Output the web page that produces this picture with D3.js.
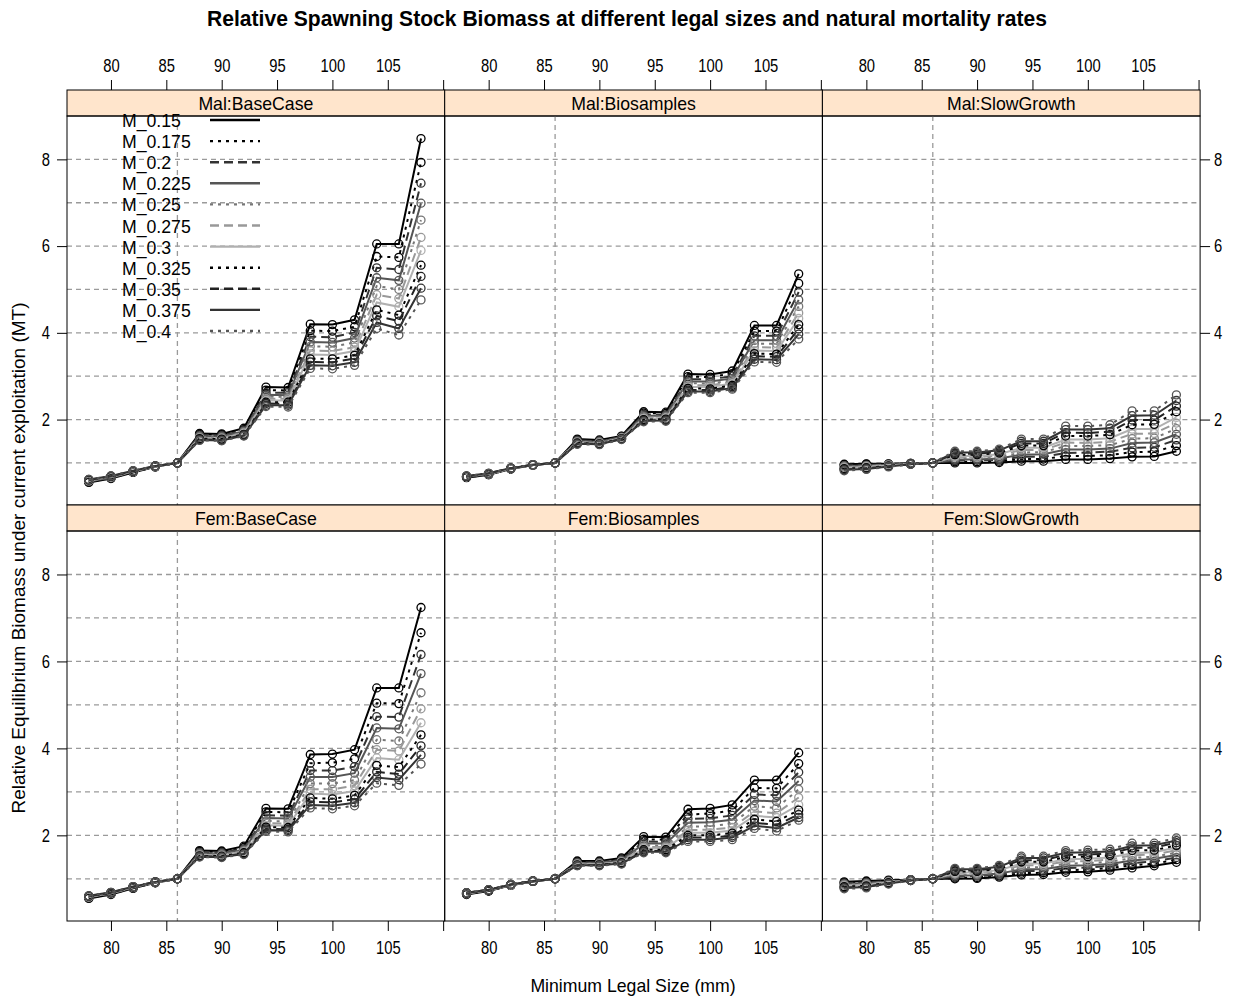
<!DOCTYPE html>
<html>
<head>
<meta charset="utf-8">
<script src="https://cdn.jsdelivr.net/npm/d3@7"></script>
<style>
  body { margin: 0; background: #fff; }
  text { font-family: "Liberation Sans", Arial, sans-serif; fill: #000; }
</style>
</head>
<body>
<div id="chart"></div>
<script>
// 1: DATA
// minimum legal sizes (mm) on the x axis
const sizes = [78, 80, 82, 84, 86, 88, 90, 92, 94, 96, 98, 100, 102, 104, 106, 108];
const mLabels = ["M_0.15", "M_0.175", "M_0.2", "M_0.225", "M_0.25", "M_0.275", "M_0.3",
                 "M_0.325", "M_0.35", "M_0.375", "M_0.4"];
const xTicks = [80, 85, 90, 95, 100, 105, 110];
const yTicks = [2, 4, 6, 8];
const gridY = [1, 2, 3, 4, 5, 6, 7, 8];
const refSize = 86;

// each row = one legal size, columns = M_0.15 ... M_0.4
const malBaseCase = [
  [0.55,0.56,0.57,0.58,0.59,0.59,0.60,0.61,0.61,0.62,0.62],
  [0.64,0.65,0.66,0.66,0.67,0.68,0.68,0.69,0.69,0.70,0.70],
  [0.78,0.79,0.79,0.80,0.80,0.80,0.81,0.81,0.81,0.82,0.82],
  [0.91,0.91,0.92,0.92,0.92,0.92,0.92,0.93,0.93,0.93,0.93],
  [1,1,1,1,1,1,1,1,1,1,1],
  [1.68,1.66,1.64,1.62,1.60,1.58,1.57,1.56,1.54,1.53,1.52],
  [1.67,1.65,1.63,1.61,1.59,1.57,1.56,1.55,1.53,1.52,1.51],
  [1.80,1.77,1.75,1.73,1.71,1.69,1.68,1.66,1.65,1.63,1.62],
  [2.75,2.68,2.62,2.57,2.53,2.48,2.44,2.40,2.37,2.33,2.30],
  [2.74,2.67,2.62,2.56,2.52,2.48,2.44,2.40,2.36,2.33,2.29],
  [4.20,4.05,3.91,3.79,3.69,3.59,3.50,3.40,3.33,3.25,3.18],
  [4.19,4.04,3.90,3.78,3.68,3.58,3.49,3.40,3.32,3.24,3.17],
  [4.30,4.14,4.01,3.88,3.78,3.67,3.58,3.48,3.41,3.32,3.25],
  [6.05,5.76,5.50,5.27,5.08,4.88,4.70,4.53,4.39,4.24,4.10],
  [6.05,5.74,5.46,5.21,5.00,4.79,4.60,4.41,4.27,4.10,3.95],
  [8.48,7.93,7.45,6.99,6.60,6.20,5.90,5.56,5.30,5.03,4.76]
];
const malBiosamples = [
  [0.66,0.67,0.67,0.68,0.68,0.68,0.69,0.69,0.69,0.70,0.70],
  [0.73,0.73,0.74,0.74,0.74,0.75,0.75,0.75,0.76,0.76,0.76],
  [0.86,0.86,0.87,0.87,0.87,0.87,0.87,0.88,0.88,0.88,0.88],
  [0.95,0.95,0.95,0.95,0.95,0.96,0.96,0.96,0.96,0.96,0.96],
  [1,1,1,1,1,1,1,1,1,1,1],
  [1.55,1.53,1.52,1.50,1.49,1.48,1.47,1.46,1.45,1.44,1.43],
  [1.53,1.51,1.50,1.49,1.48,1.46,1.45,1.44,1.44,1.43,1.42],
  [1.62,1.61,1.60,1.59,1.58,1.57,1.57,1.56,1.55,1.55,1.54],
  [2.18,2.15,2.12,2.09,2.07,2.04,2.02,2.00,1.98,1.97,1.95],
  [2.17,2.14,2.11,2.09,2.07,2.04,2.03,2.01,1.99,1.98,1.96],
  [3.05,2.99,2.93,2.88,2.84,2.79,2.75,2.72,2.68,2.65,2.62],
  [3.04,2.98,2.93,2.88,2.83,2.79,2.75,2.71,2.68,2.65,2.62],
  [3.12,3.06,3.00,2.95,2.91,2.87,2.83,2.79,2.76,2.73,2.70],
  [4.17,4.04,3.93,3.83,3.75,3.67,3.59,3.52,3.46,3.39,3.33],
  [4.17,4.04,3.93,3.83,3.75,3.66,3.58,3.51,3.45,3.38,3.32],
  [5.36,5.14,4.94,4.76,4.61,4.46,4.33,4.19,4.09,3.97,3.86]
];
const malSlowGrowth = [
  [0.97,0.96,0.94,0.93,0.91,0.90,0.88,0.87,0.85,0.84,0.82],
  [0.98,0.97,0.95,0.94,0.93,0.92,0.90,0.89,0.88,0.86,0.85],
  [0.98,0.97,0.97,0.96,0.95,0.95,0.94,0.93,0.92,0.92,0.91],
  [0.99,0.99,0.99,0.98,0.98,0.98,0.98,0.98,0.97,0.97,0.97],
  [1,1,1,1,1,1,1,1,1,1,1],
  [1.00,1.03,1.05,1.08,1.11,1.14,1.16,1.19,1.22,1.24,1.27],
  [1.00,1.03,1.06,1.08,1.11,1.13,1.16,1.19,1.21,1.24,1.27],
  [1.01,1.04,1.07,1.10,1.13,1.17,1.20,1.23,1.26,1.29,1.32],
  [1.04,1.09,1.14,1.19,1.24,1.30,1.35,1.40,1.45,1.50,1.55],
  [1.04,1.09,1.14,1.20,1.25,1.30,1.35,1.40,1.45,1.50,1.55],
  [1.08,1.16,1.23,1.31,1.39,1.47,1.54,1.62,1.70,1.77,1.85],
  [1.08,1.16,1.24,1.31,1.39,1.46,1.54,1.62,1.69,1.77,1.85],
  [1.10,1.18,1.26,1.33,1.41,1.49,1.57,1.65,1.72,1.80,1.88],
  [1.14,1.25,1.35,1.46,1.56,1.67,1.78,1.88,1.99,2.09,2.20],
  [1.15,1.26,1.36,1.47,1.57,1.68,1.78,1.89,1.99,2.10,2.20],
  [1.27,1.40,1.53,1.66,1.79,1.92,2.05,2.18,2.31,2.44,2.57]
];
const femBaseCase = [
  [0.55,0.56,0.57,0.58,0.58,0.59,0.59,0.60,0.60,0.61,0.61],
  [0.64,0.65,0.66,0.66,0.67,0.67,0.68,0.68,0.68,0.69,0.69],
  [0.78,0.79,0.79,0.80,0.80,0.81,0.81,0.81,0.82,0.82,0.82],
  [0.91,0.91,0.92,0.92,0.92,0.92,0.92,0.93,0.93,0.93,0.93],
  [1,1,1,1,1,1,1,1,1,1,1],
  [1.65,1.63,1.61,1.59,1.57,1.55,1.54,1.53,1.52,1.51,1.50],
  [1.64,1.62,1.60,1.58,1.56,1.54,1.53,1.52,1.51,1.50,1.49],
  [1.75,1.72,1.69,1.67,1.65,1.63,1.61,1.60,1.58,1.57,1.56],
  [2.62,2.54,2.46,2.40,2.33,2.28,2.23,2.19,2.15,2.12,2.09],
  [2.61,2.53,2.45,2.39,2.32,2.27,2.22,2.18,2.14,2.11,2.08],
  [3.86,3.66,3.49,3.34,3.19,3.06,2.96,2.86,2.77,2.70,2.63],
  [3.87,3.67,3.49,3.34,3.19,3.06,2.94,2.84,2.76,2.68,2.61],
  [3.97,3.76,3.58,3.43,3.27,3.14,3.02,2.92,2.83,2.75,2.68],
  [5.39,5.04,4.73,4.47,4.20,3.97,3.78,3.61,3.46,3.33,3.20],
  [5.39,5.03,4.72,4.45,4.17,3.94,3.74,3.57,3.41,3.28,3.15],
  [7.24,6.66,6.16,5.72,5.28,4.91,4.59,4.31,4.06,3.85,3.64]
];
const femBiosamples = [
  [0.64,0.65,0.65,0.66,0.66,0.67,0.67,0.67,0.68,0.68,0.68],
  [0.72,0.72,0.73,0.73,0.74,0.74,0.74,0.74,0.75,0.75,0.75],
  [0.85,0.85,0.86,0.86,0.86,0.86,0.86,0.87,0.87,0.87,0.87],
  [0.94,0.94,0.94,0.94,0.95,0.95,0.95,0.95,0.95,0.95,0.95],
  [1,1,1,1,1,1,1,1,1,1,1],
  [1.41,1.39,1.38,1.36,1.35,1.34,1.33,1.32,1.31,1.31,1.30],
  [1.41,1.39,1.38,1.37,1.35,1.34,1.33,1.32,1.32,1.31,1.30],
  [1.48,1.46,1.44,1.42,1.40,1.39,1.38,1.37,1.36,1.35,1.34],
  [1.97,1.91,1.86,1.81,1.77,1.73,1.70,1.67,1.64,1.62,1.60],
  [1.96,1.90,1.85,1.81,1.76,1.73,1.70,1.67,1.64,1.62,1.60],
  [2.60,2.48,2.38,2.29,2.20,2.12,2.06,2.00,1.95,1.90,1.86],
  [2.62,2.50,2.39,2.30,2.21,2.13,2.06,2.00,1.95,1.90,1.86],
  [2.70,2.57,2.46,2.36,2.27,2.18,2.11,2.05,1.99,1.95,1.90],
  [3.27,3.09,2.94,2.80,2.67,2.55,2.45,2.37,2.29,2.22,2.16],
  [3.27,3.08,2.92,2.78,2.63,2.51,2.41,2.32,2.24,2.17,2.10],
  [3.90,3.65,3.45,3.25,3.06,2.87,2.70,2.58,2.48,2.41,2.35]
];
const femSlowGrowth = [
  [0.93,0.91,0.90,0.88,0.87,0.85,0.83,0.82,0.80,0.79,0.77],
  [0.95,0.93,0.92,0.90,0.89,0.87,0.85,0.84,0.82,0.81,0.79],
  [0.97,0.96,0.95,0.94,0.93,0.93,0.92,0.91,0.90,0.89,0.88],
  [0.98,0.98,0.98,0.97,0.97,0.97,0.97,0.97,0.96,0.96,0.96],
  [1,1,1,1,1,1,1,1,1,1,1],
  [1.00,1.02,1.05,1.07,1.10,1.12,1.14,1.17,1.19,1.22,1.24],
  [1.01,1.03,1.06,1.08,1.10,1.13,1.15,1.17,1.19,1.22,1.24],
  [1.04,1.07,1.09,1.12,1.15,1.18,1.20,1.23,1.26,1.28,1.31],
  [1.09,1.13,1.18,1.22,1.26,1.31,1.35,1.39,1.43,1.48,1.52],
  [1.10,1.14,1.18,1.22,1.27,1.31,1.35,1.39,1.43,1.48,1.52],
  [1.15,1.20,1.25,1.30,1.35,1.40,1.45,1.50,1.55,1.60,1.65],
  [1.16,1.21,1.26,1.31,1.36,1.41,1.46,1.51,1.56,1.61,1.66],
  [1.20,1.25,1.30,1.34,1.39,1.44,1.49,1.54,1.58,1.63,1.68],
  [1.25,1.31,1.36,1.42,1.48,1.54,1.59,1.65,1.71,1.76,1.82],
  [1.30,1.35,1.40,1.46,1.51,1.56,1.61,1.66,1.72,1.77,1.82],
  [1.38,1.44,1.49,1.55,1.60,1.66,1.72,1.77,1.83,1.88,1.94]
];

const panels = [
  { name: "Mal:BaseCase",    rows: malBaseCase,   row: 0, col: 0 },
  { name: "Mal:Biosamples",  rows: malBiosamples, row: 0, col: 1 },
  { name: "Mal:SlowGrowth",  rows: malSlowGrowth, row: 0, col: 2 },
  { name: "Fem:BaseCase",    rows: femBaseCase,   row: 1, col: 0 },
  { name: "Fem:Biosamples",  rows: femBiosamples, row: 1, col: 1 },
  { name: "Fem:SlowGrowth",  rows: femSlowGrowth, row: 1, col: 2 }
];

// 2: STYLES (lattice-like superpose settings)
const seriesColor = ["#000000", "#000000", "#333333", "#555555", "#777777", "#999999",
                     "#b0b0b0", "#000000", "#222222", "#333333", "#555555"];
const dashTypes = [null, "3,5", "9,5"];   // solid, dotted, dashed
const seriesDash = mLabels.map((d, i) => dashTypes[i % 3]);

// 3: LAYOUT
const W = 1244, H = 999;
const left = 67, panelW = 377.7;
const stripH = 26;
const rowTop = [90, 505];          // strip top of each row
const panelH = [389, 390];

const svg = d3.select("#chart").append("svg")
  .attr("width", W).attr("height", H);

const x = d3.scaleLinear().domain([76.03, 110.14]).range([0, panelW]);
const yScales = panelH.map(h => d3.scaleLinear().domain([0.03, 9.0]).range([h, 0]));

const line = d3.line().x(d => x(d.x)).y(d => d.ys(d.y));

// 4: PANELS
panels.forEach(p => {
  const gx = left + p.col * panelW;
  const stripY = rowTop[p.row];
  const py = stripY + stripH;
  const h = panelH[p.row];
  const y = yScales[p.row];

  // strip
  svg.append("rect")
    .attr("x", gx).attr("y", stripY)
    .attr("width", panelW).attr("height", stripH)
    .attr("fill", "#ffe5cc").attr("stroke", "#000").attr("stroke-width", 1);
  svg.append("text")
    .attr("class", "narrow")
    .attr("x", gx + panelW / 2).attr("y", stripY + 20)
    .attr("text-anchor", "middle")
    .style("font-size", "19px")
    .text(p.name);

  const g = svg.append("g").attr("transform", `translate(${gx},${py})`);

  // reference grid
  g.selectAll(".hgrid").data(gridY).enter().append("line")
    .attr("x1", 0).attr("x2", panelW)
    .attr("y1", d => y(d)).attr("y2", d => y(d))
    .attr("stroke", "#9a9a9a").attr("stroke-width", 1.3)
    .attr("stroke-dasharray", "5,4");
  g.append("line")
    .attr("x1", x(refSize)).attr("x2", x(refSize))
    .attr("y1", 0).attr("y2", h)
    .attr("stroke", "#9a9a9a").attr("stroke-width", 1.3)
    .attr("stroke-dasharray", "5,4");

  // series: transpose rows into one line per M
  const series = mLabels.map((m, i) => sizes.map((s, j) => ({ x: s, y: p.rows[j][i], ys: y })));

  series.forEach((s, i) => {
    g.append("path")
      .attr("d", line(s))
      .attr("fill", "none")
      .attr("stroke", seriesColor[i])
      .attr("stroke-width", 2)
      .attr("stroke-dasharray", seriesDash[i]);
    g.selectAll(null).data(s).enter().append("circle")
      .attr("cx", d => x(d.x)).attr("cy", d => y(d.y))
      .attr("r", 4)
      .attr("fill", "none")
      .attr("stroke", seriesColor[i])
      .attr("stroke-width", 1.3);
  });

  // panel border
  g.append("rect")
    .attr("width", panelW).attr("height", h)
    .attr("fill", "none").attr("stroke", "#000").attr("stroke-width", 1);

  // axes
  const fmt = d => d === 110 ? "" : d;
  if (p.row === 0) {
    svg.append("g").attr("class", "axis")
      .attr("transform", `translate(${gx},${stripY})`)
      .call(d3.axisTop(x).tickValues(xTicks).tickFormat(fmt).tickSize(10).tickPadding(8).tickSizeOuter(0));
  } else {
    svg.append("g").attr("class", "axis")
      .attr("transform", `translate(${gx},${py + h})`)
      .call(d3.axisBottom(x).tickValues(xTicks).tickFormat(fmt).tickSize(10).tickPadding(10).tickSizeOuter(0));
  }
  if (p.col === 0) {
    svg.append("g").attr("class", "axis")
      .attr("transform", `translate(${gx},${py})`)
      .call(d3.axisLeft(y).tickValues(yTicks).tickSize(10).tickPadding(7).tickSizeOuter(0));
  }
  if (p.col === 2) {
    svg.append("g").attr("class", "axis")
      .attr("transform", `translate(${gx + panelW},${py})`)
      .call(d3.axisRight(y).tickValues(yTicks).tickSize(10).tickPadding(4).tickSizeOuter(0));
  }
});

svg.selectAll(".axis .domain").remove();
svg.selectAll(".axis line").attr("stroke", "#000").attr("stroke-width", 1);
svg.selectAll(".axis text")
  .attr("class", "ticklab")
  .style("font-size", "18px")
  .style("font-family", "'Liberation Sans', Arial, sans-serif")
  .attr("fill", "#000");

// 5: LEGEND (inside Mal:BaseCase)
const legend = svg.append("g");
mLabels.forEach((m, i) => {
  const ly = 120 + i * 21.1;
  legend.append("text")
    .attr("class", "narrow")
    .attr("x", 122).attr("y", ly + 7)
    .style("font-size", "19px")
    .text(m);
  legend.append("line")
    .attr("x1", 210).attr("x2", 260)
    .attr("y1", ly).attr("y2", ly)
    .attr("stroke", seriesColor[i])
    .attr("stroke-width", 2.4)
    .attr("stroke-dasharray", seriesDash[i]);
});

// 6: TITLES
svg.append("text")
  .attr("x", 627).attr("y", 26)
  .attr("text-anchor", "middle")
  .style("font-size", "22px").style("font-weight", "bold")
  .attr("textLength", 840).attr("lengthAdjust", "spacingAndGlyphs")
  .text("Relative Spawning Stock Biomass at different legal sizes and natural mortality rates");

svg.append("text")
  .attr("class", "narrow")
  .attr("x", 633).attr("y", 992)
  .attr("text-anchor", "middle")
  .style("font-size", "19px")
  .text("Minimum Legal Size (mm)");

svg.append("text")
  .attr("transform", "translate(25,558) rotate(-90)")
  .attr("text-anchor", "middle")
  .style("font-size", "19px")
  .text("Relative Equilibrium Biomass under current exploitation (MT)");

// condensed look of the original device font
function squeeze(sel, k) {
  sel.each(function () {
    const w = this.getComputedTextLength();
    if (w > 0) d3.select(this).attr("textLength", w * k).attr("lengthAdjust", "spacingAndGlyphs");
  });
}
squeeze(svg.selectAll("text.narrow"), 0.93);
squeeze(svg.selectAll("text.ticklab"), 0.82);
</script>
</body>
</html>
